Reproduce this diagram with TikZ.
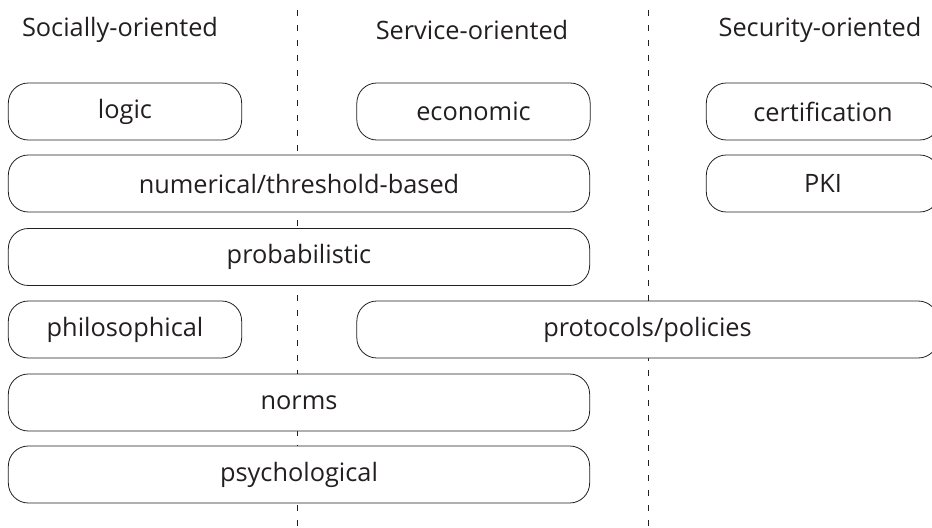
\documentclass[tikz,border=0pt]{standalone}
\usepackage{fontspec}
\setmainfont{Open Sans}
\definecolor{inkgray}{HTML}{231F20}
\tikzset{
  tbox/.style={draw=inkgray,fill=white,line width=0.6pt,rounded corners=15pt,
    minimum height=42.75pt,inner sep=0pt,text=inkgray,font=\fontsize{19}{23}\selectfont},
  small/.style={tbox,minimum width=175pt},
  wide/.style={tbox,minimum width=436pt},
  head/.style={text=inkgray,font=\fontsize{19}{23}\selectfont},
  divider/.style={draw=inkgray,line width=0.6pt,dash pattern=on 4.5pt off 6.75pt}
}
\begin{document}
\begin{tikzpicture}[x=0.75pt,y=-0.75pt]
  \clip (0,0) rectangle (932,528);
  % column headers
  \node[head] (hsoc) at (120,30) {Socially-oriented};
  \node[head] (hser) at (472,30) {Service-oriented};
  \node[head] (hsec) at (820,30) {Security-oriented};
  % column dividers
  \coordinate (d1top) at (297,10);
  \coordinate (d1bot) at (297,528);
  \coordinate (d2top) at (648,10);
  \coordinate (d2bot) at (648,528);
  \draw[divider] (d1top) -- (d1bot);
  \draw[divider] (d2top) -- (d2bot);
  % row 1
  \node[small] (logic) at (125,111.5) {logic};
  \node[small] (econ) at (473.5,111.5) {economic};
  \node[small] (cert) at (823,111.5) {certification};
  % row 2
  \node[wide] (numer) at (299,183.5) {numerical/threshold-based};
  \node[small] (pki) at (823,183.5) {PKI};
  % row 3
  \node[wide] (prob) at (299,257) {probabilistic};
  % row 4
  \node[small] (philo) at (125,329.5) {philosophical};
  \node[wide] (proto) at (647.5,329.5) {protocols/policies};
  % rows 5 and 6
  \node[wide] (norms) at (299,402.5) {norms};
  \node[wide] (psych) at (299,474.5) {psychological};
\end{tikzpicture}
\end{document}
